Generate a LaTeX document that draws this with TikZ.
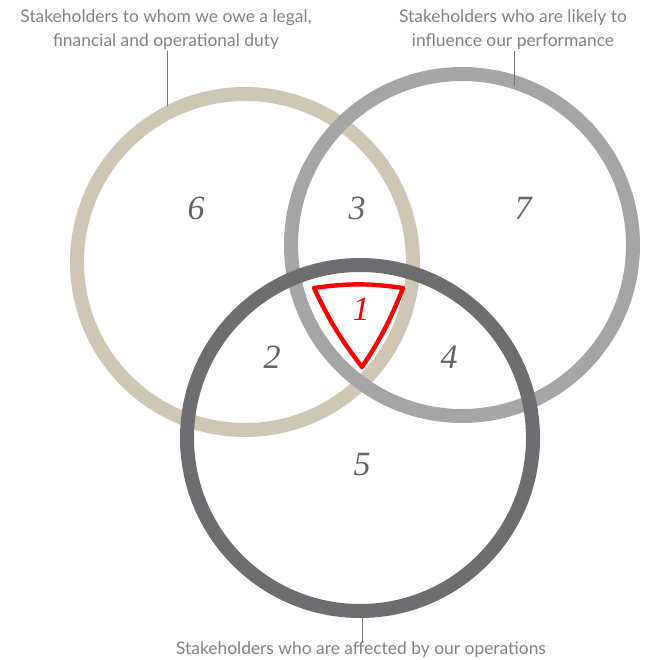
\documentclass[tikz,border=0pt]{standalone}
\usepackage{fontspec}
\setmainfont{Liberation Serif}
\setsansfont{Lato}
\usepackage{xcolor}
\usepackage{tikz}
\usetikzlibrary{arrows, positioning, calc}

\definecolor{sand}{RGB}{207,199,181}
\definecolor{ash}{RGB}{165,165,165}
\definecolor{slate}{RGB}{110,110,112}
\definecolor{capgray}{RGB}{130,130,130}
\definecolor{numgray}{RGB}{100,100,104}

\begin{document}
\begin{tikzpicture}[x=1pt,y=-1pt,
		ring/.style={line width=14pt},
		num/.style={text=numgray,font=\fontsize{34}{34}\selectfont\itshape},
		legend/.style={text=capgray,align=center,font=\sffamily\fontsize{17.4}{24}\selectfont},
		lead/.style={draw=capgray!90!black,line width=0.9pt}]
			\useasboundingbox (0,0) rectangle (647,660);
			% the three rings, back to front
			\draw[ring,sand] (245,262) circle (168);
			\draw[ring,ash] (462,245) circle (171);
			\draw[ring,slate] (360,438) circle (173);
			% centre where all three meet
			\draw[draw=red,line width=4.4pt,fill=white,line join=round]
				(314,288) to[bend left=8] (403,288) to[bend left=6] (362,367) to[bend left=6] cycle;
			\node[num] (n6) at (196,208) {6};
			\node[num] (n3) at (357,208) {3};
			\node[num] (n7) at (523,208) {7};
			\node[num,text=red] (n1) at (361,309) {1};
			\node[num] (n2) at (272,357) {2};
			\node[num] (n4) at (449,357) {4};
			\node[num] (n5) at (362,465) {5};
			% captions with their leaders
			\node[legend] (t6) at (166,30) {Stakeholders to whom we owe a legal,\\financial and operational duty};
			\node[legend] (t7) at (513,30) {Stakeholders who are likely to\\influence our performance};
			\node[legend] (t5) at (361,650) {Stakeholders who are affected by our operations};
			\coordinate (e6) at (167,106);
			\coordinate (e7) at (514,86);
			\coordinate (e5) at (362,612);
			\draw[lead] ($(t6.south)+(1,-2)$) -- (e6);
			\draw[lead] ($(t7.south)+(1,-2)$) -- (e7);
			\draw[lead] ($(t5.north)+(1,3)$) -- (e5);
		\end{tikzpicture}
\end{document}
